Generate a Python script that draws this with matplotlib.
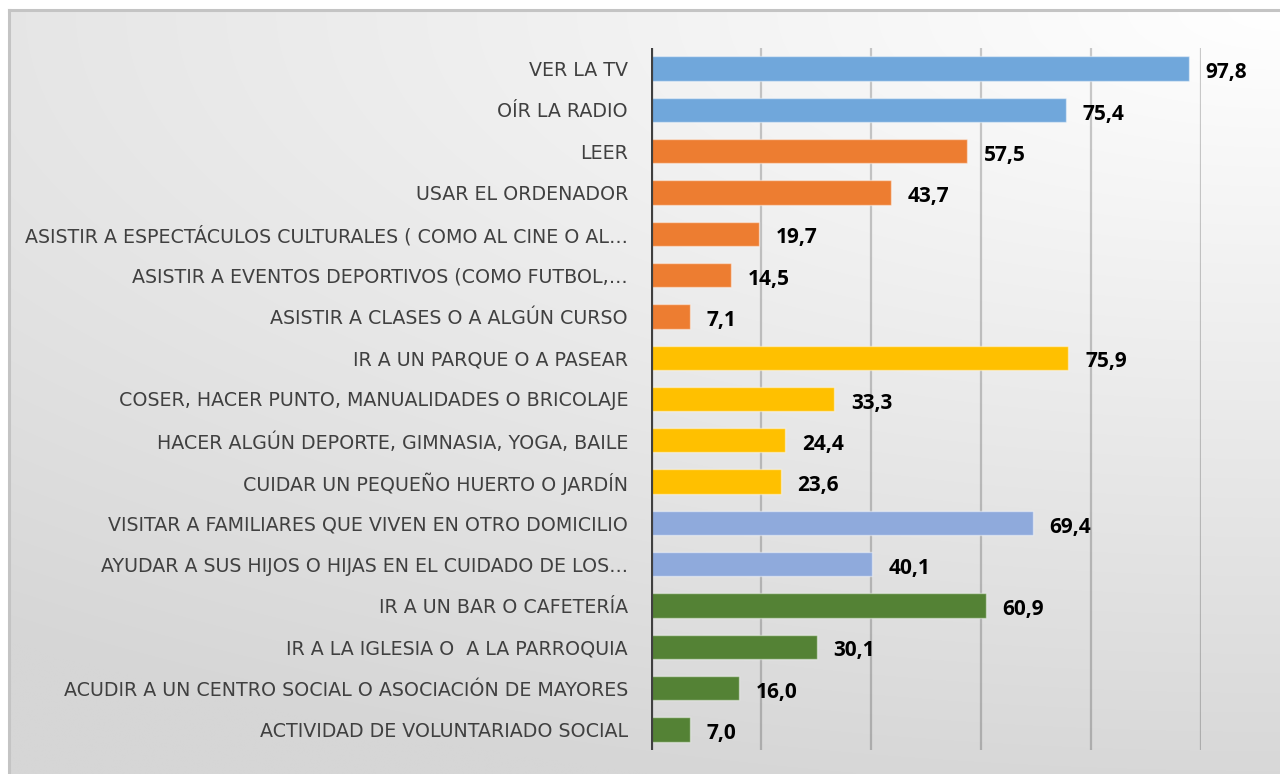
import numpy as np
import matplotlib
matplotlib.use("Agg")
import matplotlib.pyplot as plt

# Activities and share of people doing each one (%)
categories = [
    "VER LA TV",
    "OÍR LA RADIO",
    "LEER",
    "USAR EL ORDENADOR",
    "ASISTIR A ESPECTÁCULOS CULTURALES ( COMO AL CINE O AL…",
    "ASISTIR A EVENTOS DEPORTIVOS (COMO FUTBOL,…",
    "ASISTIR A CLASES O A ALGÚN CURSO",
    "IR A UN PARQUE O A PASEAR",
    "COSER, HACER PUNTO, MANUALIDADES O BRICOLAJE",
    "HACER ALGÚN DEPORTE, GIMNASIA, YOGA, BAILE",
    "CUIDAR UN PEQUEÑO HUERTO O JARDÍN",
    "VISITAR A FAMILIARES QUE VIVEN EN OTRO DOMICILIO",
    "AYUDAR A SUS HIJOS O HIJAS EN EL CUIDADO DE LOS…",
    "IR A UN BAR O CAFETERÍA",
    "IR A LA IGLESIA O  A LA PARROQUIA",
    "ACUDIR A UN CENTRO SOCIAL O ASOCIACIÓN DE MAYORES",
    "ACTIVIDAD DE VOLUNTARIADO SOCIAL",
]
values = [97.8, 75.4, 57.5, 43.7, 19.7, 14.5, 7.1, 75.9, 33.3, 24.4, 23.6,
          69.4, 40.1, 60.9, 30.1, 16.0, 7.0]
# Activity group of each row (media, culture, leisure, family, social)
groups = [0, 0, 1, 1, 1, 1, 1, 2, 2, 2, 2, 3, 3, 4, 4, 4, 4]
x_ticks = [0, 20, 40, 60, 80, 100]

palette = ["#70A7DB", "#ED7D31", "#FFC000", "#8FAADC", "#548235"]

W, H = 1280, 774
fig = plt.figure(figsize=(W / 100, H / 100), dpi=100)
fig.patch.set_facecolor("white")

# Chart-area background: soft grey gradient fading to white at the top right
bx0, by0 = 9, 10
bg = fig.add_axes([bx0 / W, 0, 1 - bx0 / W, 1 - by0 / H], zorder=0)
gx = np.linspace(1, 0, 400)
gy = np.linspace(0, 1, 300)
X, Y = np.meshgrid(gx, gy)
d = np.sqrt((1.1 * X) ** 2 + (1.7 * Y) ** 2)
v = np.clip(255 - 23 * d, 214, 255) / 255.0
img = np.dstack([v, v, v])
bg.imshow(img, aspect="auto", extent=[0, 1, 0, 1], interpolation="bilinear")
bg.set_xlim(0, 1)
bg.set_ylim(0, 1)
bg.axis("off")
# frame of the chart area (left and top edges)
fig.add_artist(plt.Line2D([bx0 / W, bx0 / W], [0, 1 - by0 / H], color="#c4c4c4",
                          lw=2.2, transform=fig.transFigure, zorder=1))
fig.add_artist(plt.Line2D([bx0 / W, 1], [1 - by0 / H, 1 - by0 / H], color="#c4c4c4",
                          lw=2.2, transform=fig.transFigure, zorder=1))

# Plot area
left, right = 651 / W, 1201 / W
top, bottom = 1 - 48 / H, 1 - 750 / H
ax = fig.add_axes([left, bottom, right - left, top - bottom], zorder=2)
ax.patch.set_alpha(0)

ypos = np.arange(len(categories))
colors = [palette[g] for g in groups]
ax.barh(ypos, values, height=0.59, color=colors,
        edgecolor=(1, 1, 1, 0.45), linewidth=1.0, zorder=3)

ax.set_xlim(0, 100)
ax.set_ylim(len(categories) - 0.5, -0.5)
ax.set_xticks(x_ticks[1:])
ax.xaxis.grid(True, color="black", alpha=0.2, lw=1.6, zorder=1)
ax.set_axisbelow(True)
ax.tick_params(axis="x", bottom=False, labelbottom=False)
ax.axvline(0, color="#404040", lw=2.3, zorder=4)
for s in ax.spines.values():
    s.set_visible(False)

ax.set_yticks(ypos)
ax.set_yticklabels(categories, fontsize=13.7, color="#404040", family="DejaVu Sans")
ax.tick_params(axis="y", left=False, pad=13)

for y, val in zip(ypos, values):
    ax.annotate(f"{val:.1f}".replace(".", ","), xy=(val, y), xytext=(12, -3),
                textcoords="offset points", ha="left", va="center",
                fontsize=15, fontweight="bold", color="black",
                family="Open Sans", zorder=5)

fig.savefig("out.png", dpi=100)
